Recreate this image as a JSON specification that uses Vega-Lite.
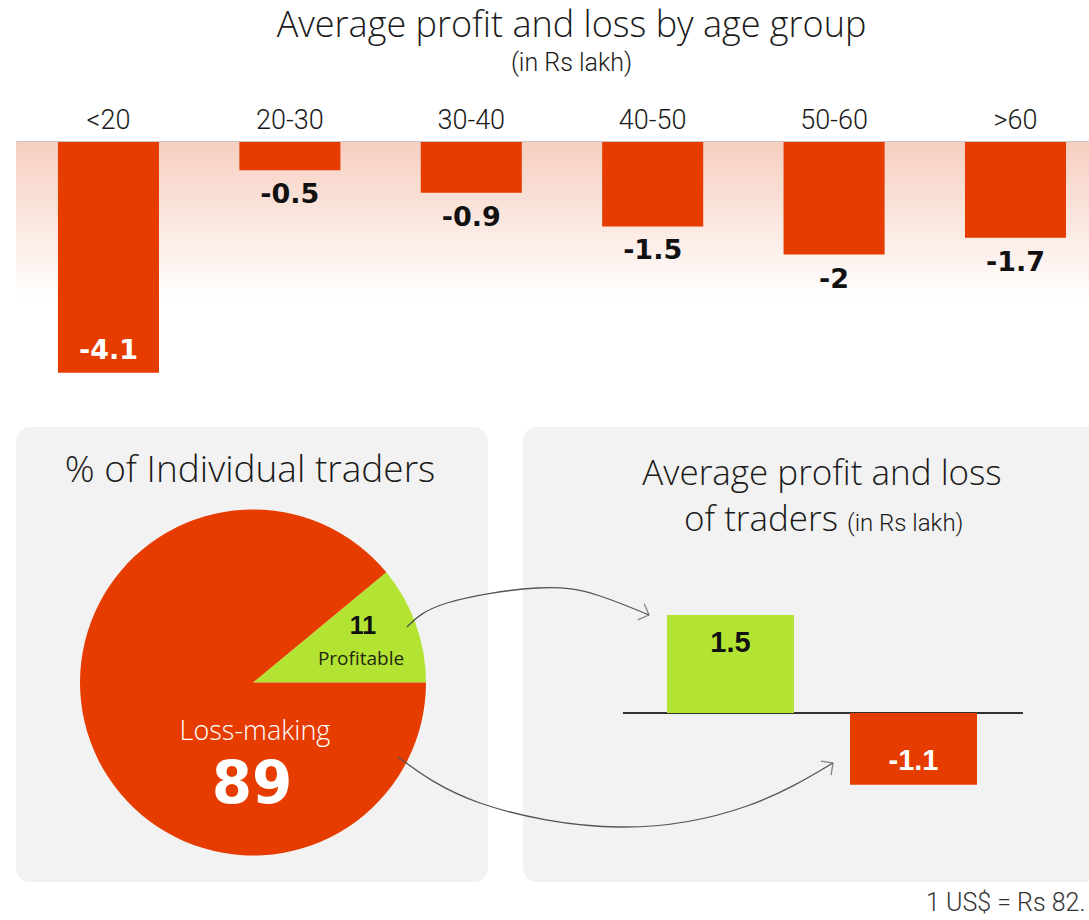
{
  "$schema": "https://vega.github.io/schema/vega-lite/v6.json",
  "padding": {"left": 16, "top": 8, "right": 0, "bottom": 0},
  "background": "#ffffff",
  "config": {"view": {"stroke": null}, "font": "Open Sans"},
  "datasets": {
    "age": [
      {"age": "<20", "pnl": -4.1},
      {"age": "20-30", "pnl": -0.5},
      {"age": "30-40", "pnl": -0.9},
      {"age": "40-50", "pnl": -1.5},
      {"age": "50-60", "pnl": -2},
      {"age": ">60", "pnl": -1.7}
    ],
    "share": [
      {"group": "Profitable", "pct": 11},
      {"group": "Loss-making", "pct": 89}
    ],
    "pnl": [
      {"group": "Profitable", "pnl": 1.5},
      {"group": "Loss-making", "pnl": -1.1}
    ],
    "arrows": [
      {"arrow": "profit", "step": 1, "x": 391, "y": 207},
      {"arrow": "profit", "step": 2, "x": 431, "y": 183},
      {"arrow": "profit", "step": 3, "x": 521, "y": 168},
      {"arrow": "profit", "step": 4, "x": 581, "y": 175},
      {"arrow": "profit", "step": 5, "x": 633, "y": 195},
      {"arrow": "loss", "step": 1, "x": 382, "y": 337},
      {"arrow": "loss", "step": 2, "x": 464, "y": 383},
      {"arrow": "loss", "step": 3, "x": 604, "y": 407},
      {"arrow": "loss", "step": 4, "x": 731, "y": 386},
      {"arrow": "loss", "step": 5, "x": 817, "y": 343}
    ]
  },
  "spacing": 18,
  "vconcat": [
    {
      "width": 1073,
      "height": 260,
      "title": {
        "text": "Average profit and loss by age group",
        "subtitle": "(in Rs lakh)",
        "anchor": "middle",
        "dx": 19,
        "font": "Open Sans",
        "fontWeight": 300,
        "fontSize": 36,
        "color": "#1a1a1a",
        "subtitleFont": "Roboto",
        "subtitleFontWeight": 300,
        "subtitleFontSize": 25,
        "subtitleColor": "#1a1a1a",
        "subtitlePadding": 6,
        "offset": 29
      },
      "layer": [
        {
          "data": {"values": [{}]},
          "mark": {
            "type": "rect",
            "fill": {
              "gradient": "linear",
              "x1": 0, "y1": 0, "x2": 0, "y2": 1,
              "stops": [
                {"offset": 0, "color": "#f6cfc0"},
                {"offset": 1, "color": "#ffffff"}
              ]
            }
          },
          "encoding": {
            "y": {"datum": 0, "type": "quantitative", "scale": {"domain": [-4.618, 0], "nice": false, "zero": false}, "axis": null},
            "y2": {"datum": -2.8}
          }
        },
        {
          "data": {"name": "age"},
          "mark": {"type": "bar", "color": "#e63c00"},
          "encoding": {
            "x": {
              "field": "age", "type": "nominal", "sort": null,
              "scale": {"paddingInner": 0.443, "paddingOuter": 0.179, "align": 0.646},
              "axis": {
                "orient": "top", "title": null, "ticks": false, "grid": false,
                "domainColor": "#222222", "domainWidth": 1.5,
                "labelFont": "Roboto", "labelFontWeight": 300, "labelFontSize": 27,
                "labelColor": "#1a1a1a", "labelPadding": 8, "labelAngle": 0
              }
            },
            "y": {"field": "pnl", "type": "quantitative", "scale": {"domain": [-4.618, 0], "nice": false, "zero": false}, "axis": null}
          }
        },
        {
          "data": {"name": "age"},
          "transform": [{"filter": "datum.pnl > -4"}],
          "mark": {"type": "text", "font": "DejaVu Sans", "fontWeight": "bold", "fontSize": 27, "baseline": "middle", "dy": 25, "color": "#111111"},
          "encoding": {
            "x": {"field": "age", "type": "nominal", "sort": null},
            "y": {"field": "pnl", "type": "quantitative"},
            "text": {"field": "pnl", "type": "nominal"}
          }
        },
        {
          "data": {"name": "age"},
          "transform": [{"filter": "datum.pnl <= -4"}],
          "mark": {"type": "text", "font": "DejaVu Sans", "fontWeight": "bold", "fontSize": 27, "baseline": "middle", "dy": -22, "color": "#ffffff"},
          "encoding": {
            "x": {"field": "age", "type": "nominal", "sort": null},
            "y": {"field": "pnl", "type": "quantitative"},
            "text": {"field": "pnl", "type": "nominal"}
          }
        }
      ]
    },
    {
      "width": 1073,
      "height": 500,
      "resolve": {"scale": {"x": "independent", "y": "independent"}},
      "layer": [
        {
          "layer": [
            {
              "data": {"values": [{}]},
              "mark": {"type": "rect", "fill": "#f2f2f2", "cornerRadius": 14},
              "encoding": {
                "x": {"datum": 0, "type": "quantitative", "scale": {"domain": [0, 1073], "nice": false, "zero": false}, "axis": null},
                "x2": {"datum": 472},
                "y": {"datum": 7, "type": "quantitative", "scale": {"domain": [0, 500], "nice": false, "zero": false, "reverse": true}, "axis": null},
                "y2": {"datum": 462}
              }
            },
            {
              "data": {"values": [{}]},
              "mark": {"type": "rect", "fill": "#f2f2f2", "cornerRadius": 14},
              "encoding": {
                "x": {"datum": 507, "type": "quantitative"},
                "x2": {"datum": 1095},
                "y": {"datum": 7, "type": "quantitative"},
                "y2": {"datum": 462}
              }
            },
            {
              "data": {"values": [{}]},
              "mark": {"type": "text", "text": "% of Individual traders", "font": "Open Sans", "fontWeight": 300, "fontSize": 37, "align": "center", "baseline": "alphabetic", "color": "#1a1a1a"},
              "encoding": {
                "x": {"datum": 234, "type": "quantitative"},
                "y": {"datum": 62, "type": "quantitative"}
              }
            },
            {
              "data": {"name": "share"},
              "mark": {"type": "arc", "radius": 173},
              "encoding": {
                "theta": {"field": "pct", "type": "quantitative", "stack": true, "scale": {"domain": [0, 100], "range": [0.8796, 7.1628]}},
                "order": {"field": "pct", "sort": "ascending"},
                "color": {"field": "group", "type": "nominal", "scale": {"domain": ["Profitable", "Loss-making"], "range": ["#b4e433", "#e63c00"]}, "legend": null},
                "x": {"datum": 237, "type": "quantitative"},
                "y": {"datum": 262.5, "type": "quantitative"}
              }
            },
            {
              "data": {"name": "share"},
              "transform": [{"filter": "datum.group == 'Profitable'"}],
              "mark": {"type": "text", "font": "Liberation Sans", "fontWeight": "bold", "fontSize": 25, "align": "center", "baseline": "middle", "color": "#111111"},
              "encoding": {
                "x": {"datum": 347, "type": "quantitative"},
                "y": {"datum": 206, "type": "quantitative"},
                "text": {"field": "pct", "type": "nominal"}
              }
            },
            {
              "data": {"name": "share"},
              "transform": [{"filter": "datum.group == 'Profitable'"}],
              "mark": {"type": "text", "font": "Open Sans", "fontSize": 19, "align": "center", "baseline": "middle", "color": "#1f2a10"},
              "encoding": {
                "x": {"datum": 345, "type": "quantitative"},
                "y": {"datum": 239, "type": "quantitative"},
                "text": {"field": "group", "type": "nominal"}
              }
            },
            {
              "data": {"name": "share"},
              "transform": [{"filter": "datum.group == 'Loss-making'"}],
              "mark": {"type": "text", "font": "Open Sans", "fontWeight": 300, "fontSize": 27, "align": "center", "baseline": "middle", "color": "#ffffff"},
              "encoding": {
                "x": {"datum": 239, "type": "quantitative"},
                "y": {"datum": 312, "type": "quantitative"},
                "text": {"field": "group", "type": "nominal"}
              }
            },
            {
              "data": {"name": "share"},
              "transform": [{"filter": "datum.group == 'Loss-making'"}],
              "mark": {"type": "text", "font": "DejaVu Sans", "fontWeight": "bold", "fontSize": 58, "align": "center", "baseline": "middle", "color": "#ffffff"},
              "encoding": {
                "x": {"datum": 236, "type": "quantitative"},
                "y": {"datum": 366, "type": "quantitative"},
                "text": {"field": "pct", "type": "nominal"}
              }
            },
            {
              "data": {"values": [{}]},
              "mark": {"type": "text", "text": "Average profit and loss", "font": "Open Sans", "fontWeight": 300, "fontSize": 35, "align": "center", "baseline": "alphabetic", "color": "#1a1a1a"},
              "encoding": {
                "x": {"datum": 806, "type": "quantitative"},
                "y": {"datum": 65, "type": "quantitative"}
              }
            },
            {
              "data": {"values": [{}]},
              "mark": {"type": "text", "text": "of traders", "font": "Open Sans", "fontWeight": 300, "fontSize": 35, "align": "right", "baseline": "alphabetic", "color": "#1a1a1a"},
              "encoding": {
                "x": {"datum": 822, "type": "quantitative"},
                "y": {"datum": 111, "type": "quantitative"}
              }
            },
            {
              "data": {"values": [{}]},
              "mark": {"type": "text", "text": "(in Rs lakh)", "font": "Roboto", "fontWeight": 300, "fontSize": 24, "align": "left", "baseline": "alphabetic", "color": "#1a1a1a"},
              "encoding": {
                "x": {"datum": 831, "type": "quantitative"},
                "y": {"datum": 111, "type": "quantitative"}
              }
            },
            {
              "data": {"values": [{}]},
              "mark": {"type": "rule", "stroke": "#333333", "strokeWidth": 2},
              "encoding": {
                "x": {"datum": 607, "type": "quantitative"},
                "x2": {"datum": 1007},
                "y": {"datum": 293, "type": "quantitative"}
              }
            },
            {
              "data": {"name": "arrows"},
              "mark": {"type": "line", "interpolate": "natural", "stroke": "#555555", "strokeWidth": 1.3},
              "encoding": {
                "x": {"field": "x", "type": "quantitative"},
                "y": {"field": "y", "type": "quantitative"},
                "detail": {"field": "arrow", "type": "nominal"},
                "order": {"field": "step", "type": "quantitative"}
              }
            },
            {
              "data": {"values": [{}]},
              "mark": {"type": "point", "shape": "M-1,-1L0,0L-1,1", "filled": false, "stroke": "#555555", "strokeWidth": 1.3, "size": 300, "angle": 22},
              "encoding": {
                "x": {"datum": 633, "type": "quantitative"},
                "y": {"datum": 195, "type": "quantitative"}
              }
            },
            {
              "data": {"values": [{}]},
              "mark": {"type": "point", "shape": "M-1,-1L0,0L-1,1", "filled": false, "stroke": "#555555", "strokeWidth": 1.3, "size": 300, "angle": -36},
              "encoding": {
                "x": {"datum": 817, "type": "quantitative"},
                "y": {"datum": 343, "type": "quantitative"}
              }
            },
            {
              "data": {"values": [{}]},
              "mark": {"type": "text", "text": "1 US$ = Rs 82.", "font": "Roboto", "fontWeight": 300, "fontSize": 25, "align": "left", "baseline": "alphabetic", "color": "#333333"},
              "encoding": {
                "x": {"datum": 910, "type": "quantitative"},
                "y": {"datum": 491, "type": "quantitative"}
              }
            }
          ]
        },
        {
          "data": {"name": "pnl"},
          "layer": [
            {
              "mark": {"type": "bar"},
              "encoding": {
                "x": {"field": "group", "type": "nominal", "sort": null, "scale": {"domain": ["Profitable", "Loss-making"], "range": [651, 961], "paddingInner": 0.306, "paddingOuter": 0}, "axis": null},
                "y": {"field": "pnl", "type": "quantitative", "scale": {"domain": [-3.17, 4.487], "nice": false, "zero": false}, "axis": null},
                "color": {"field": "group", "type": "nominal", "scale": {"domain": ["Profitable", "Loss-making"], "range": ["#b4e433", "#e63c00"]}, "legend": null}
              }
            },
            {
              "transform": [{"filter": "datum.pnl > 0"}],
              "mark": {"type": "text", "font": "Liberation Sans", "fontWeight": "bold", "fontSize": 29, "baseline": "middle", "dy": 28, "color": "#111111"},
              "encoding": {
                "x": {"field": "group", "type": "nominal", "sort": null},
                "y": {"field": "pnl", "type": "quantitative"},
                "text": {"field": "pnl", "type": "nominal"}
              }
            },
            {
              "transform": [{"filter": "datum.pnl < 0"}],
              "mark": {"type": "text", "font": "Liberation Sans", "fontWeight": "bold", "fontSize": 29, "baseline": "middle", "dy": -24, "color": "#ffffff"},
              "encoding": {
                "x": {"field": "group", "type": "nominal", "sort": null},
                "y": {"field": "pnl", "type": "quantitative"},
                "text": {"field": "pnl", "type": "nominal"}
              }
            }
          ]
        }
      ]
    }
  ]
}
